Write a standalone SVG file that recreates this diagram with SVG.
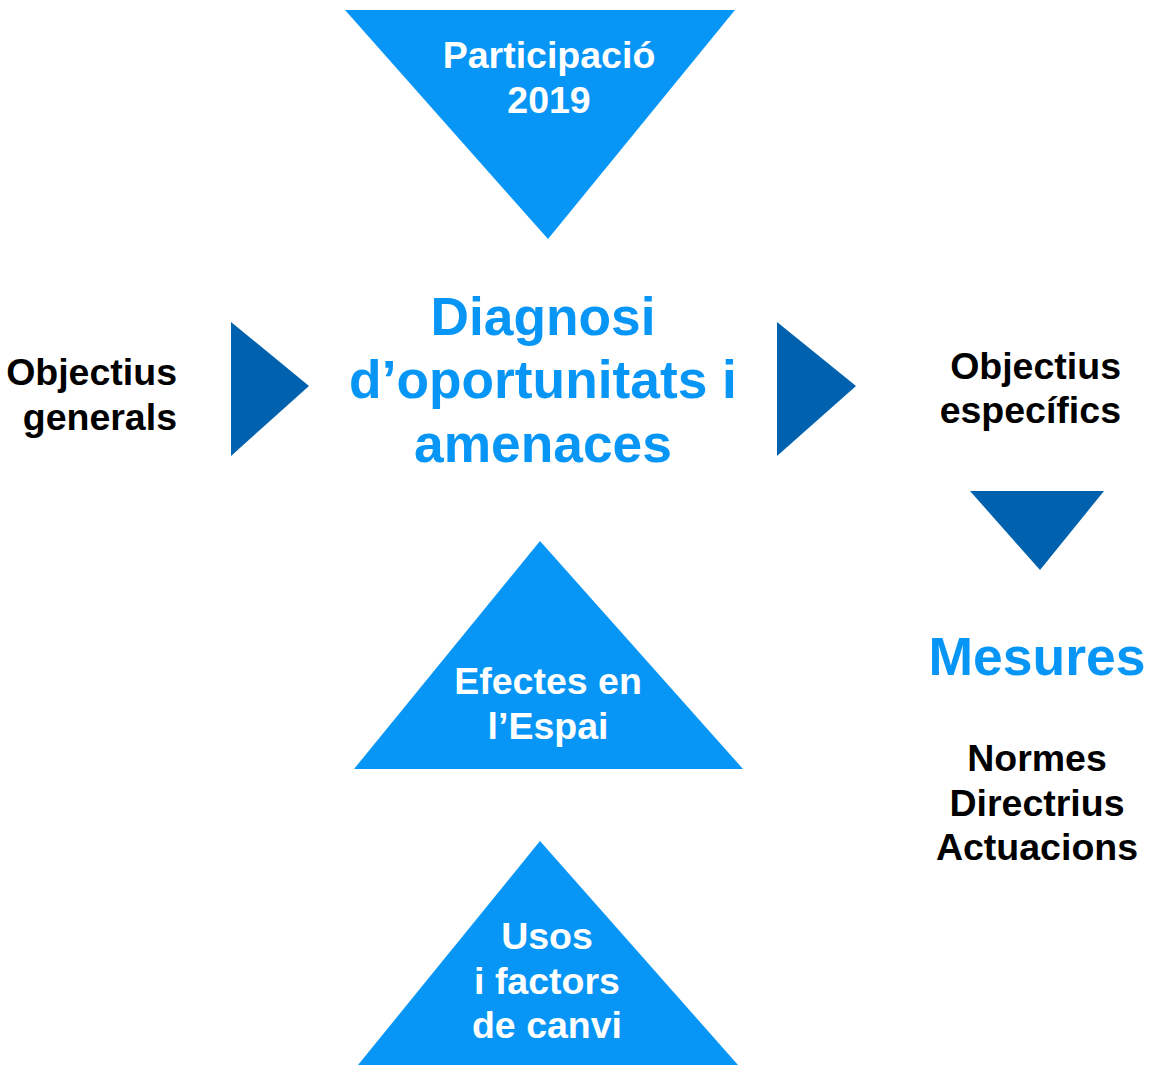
<svg xmlns="http://www.w3.org/2000/svg" width="1154" height="1065" viewBox="0 0 1154 1065">
<style>
.lt{fill:#0896f6}
.dk{fill:#0062ae}
text{font-family:"Liberation Sans",Arial,sans-serif;font-weight:bold}
.w{fill:#ffffff;font-size:37.5px;text-anchor:middle}
.b{fill:#000000;font-size:37.5px}
.big{fill:#0896f6;font-size:53.3px;text-anchor:middle}
</style>
<rect width="1154" height="1065" fill="#ffffff"/>
<g id="participacio">
<polygon class="lt" points="345,10 735,10 548,239"/>
<text class="w" x="549" y="68">Participació</text>
<text class="w" x="549" y="113">2019</text>
</g>
<g id="diagnosi">
<text class="big" x="543" y="335">Diagnosi</text>
<text class="big" x="543" y="398">d’oportunitats i</text>
<text class="big" x="543" y="462">amenaces</text>
</g>
<g id="objectius-generals">
<text class="b" x="177" y="385" text-anchor="end">Objectius</text>
<text class="b" x="177" y="430" text-anchor="end">generals</text>
</g>
<g id="objectius-especifics">
<text class="b" x="1121" y="379" text-anchor="end">Objectius</text>
<text class="b" x="1121" y="423" text-anchor="end">específics</text>
</g>
<g id="mesures">
<text class="big" x="1037" y="675" style="font-size:53.5px">Mesures</text>
<text class="b" x="1037" y="771" text-anchor="middle">Normes</text>
<text class="b" x="1037" y="816" text-anchor="middle">Directrius</text>
<text class="b" x="1037" y="860" text-anchor="middle">Actuacions</text>
</g>
<g id="efectes">
<polygon class="lt" points="540,541 743,769 354,769"/>
<text class="w" x="548" y="694">Efectes en</text>
<text class="w" x="548" y="739">l’Espai</text>
</g>
<g id="usos">
<polygon class="lt" points="540,841 738,1065 358,1065"/>
<text class="w" x="547" y="949">Usos</text>
<text class="w" x="547" y="994">i factors</text>
<text class="w" x="547" y="1038">de canvi</text>
</g>
<g id="connectors">
<polygon class="dk" points="231,322 309,386 231,456"/>
<polygon class="dk" points="777,322 856,386 777,456"/>
<polygon class="dk" points="970,491 1104,491 1040,570"/>
</g>
</svg>
